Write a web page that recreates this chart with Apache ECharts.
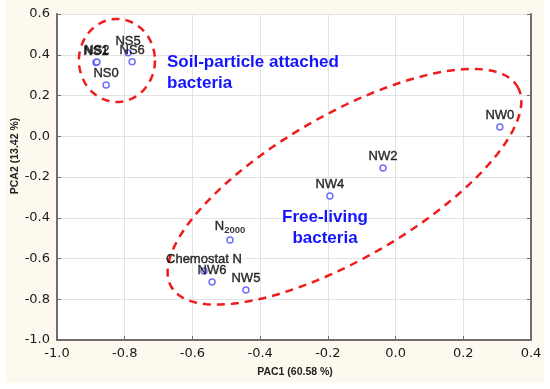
<!DOCTYPE html>
<html>
<head>
<meta charset="utf-8">
<script src="https://cdn.jsdelivr.net/npm/echarts@6/dist/echarts.min.js"></script>
<style>
html,body{margin:0;padding:0;background:#fff;}
#wrap{position:relative;width:550px;height:389px;background:#fff;}
#bg{position:absolute;left:5px;top:0;width:539px;height:383px;background:#fdf9ee;}
#chart{position:absolute;left:0;top:0;width:550px;height:389px;}
</style>
</head>
<body>
<div id="wrap"><div id="bg"></div><div id="chart"></div></div>
<script>
// Data
var sampleNames = ['NS1','NS2','NS5','NS6','NS0','NW0','NW2','NW4','N2000','Chemostat N','NW6','NW5'];
var pc1Values  = [-0.885,-0.882,-0.790,-0.778,-0.855,0.308,-0.037,-0.194,-0.489,-0.566,-0.542,-0.442];
var pc2Values  = [0.362,0.365,0.410,0.366,0.252,0.045,-0.156,-0.293,-0.509,-0.661,-0.715,-0.755];
var xTickRange = [-1.0, 0.4, 0.2];
var yTickRange = [-1.0, 0.6, 0.2];
var xAxisTitle = 'PAC1 (60.58 %)';
var yAxisTitle = 'PCA2 (13.42 %)';
var groupLabels = ['Soil-particle attached\nbacteria', 'Free-living\nbacteria'];

var chart = echarts.init(document.getElementById('chart'), null, {renderer:'canvas'});

function fmt(v){ if (Math.abs(v) < 1e-9) return '0.0'; return v.toFixed(1); }

var seriesData = sampleNames.map(function(n,i){ return {name:n, value:[pc1Values[i], pc2Values[i]]}; });

var tickFont = {fontFamily:'DejaVu Sans', fontSize:13, color:'#1a1a1a'};

chart.setOption({
  backgroundColor:'transparent',
  animation:false,
  grid:{left:57, right:19, top:14, bottom:49, show:true, backgroundColor:'#ffffff', borderWidth:0},
  xAxis:{
    type:'value', min:xTickRange[0], max:xTickRange[1], interval:xTickRange[2],
    axisLine:{show:true, onZero:false, lineStyle:{color:'#6e6e6e', width:2}},
    axisTick:{show:true, inside:true, length:4, lineStyle:{color:'#6e6e6e'}},
    axisLabel:Object.assign({margin:7, formatter:fmt}, tickFont),
    splitLine:{show:true, lineStyle:{color:'#e2e2e2', width:1}}
  },
  yAxis:[{
    type:'value', min:yTickRange[0], max:yTickRange[1], interval:yTickRange[2],
    axisLine:{show:true, onZero:false, lineStyle:{color:'#6e6e6e', width:2}},
    axisTick:{show:true, inside:true, length:4, lineStyle:{color:'#6e6e6e'}},
    axisLabel:Object.assign({margin:7, formatter:fmt}, tickFont),
    splitLine:{show:true, lineStyle:{color:'#e2e2e2', width:1}}
  },{
    type:'value', position:'right', min:yTickRange[0], max:yTickRange[1], interval:yTickRange[2],
    axisLine:{show:true, onZero:false, lineStyle:{color:'#6e6e6e', width:2}},
    axisTick:{show:true, inside:true, length:4, lineStyle:{color:'#6e6e6e'}},
    axisLabel:{show:false}, splitLine:{show:false}
  }],
  series:[{
    type:'scatter', symbol:'circle', symbolSize:6,
    itemStyle:{color:'#ffffff', borderColor:'#4d4dff', borderWidth:1.5},
    data:seriesData,
    z:5,
    label:{
      show:true, position:'top', distance:1,
      fontFamily:'Liberation Sans', fontSize:13, color:'#000',
      textBorderColor:'#000', textBorderWidth:0.4,
      formatter:function(p){ return p.name === 'N2000' ? 'N{s|2000}' : p.name; },
      rich:{ s:{fontFamily:'Liberation Sans', fontSize:9.5, fontWeight:'bold', color:'#000', textBorderWidth:0, verticalAlign:'bottom', padding:[7,0,0,0]} }
    }
  }]
});

function ellipsePoints(cx, cy, rx, ry, rotDeg){
  var pts = [], r = rotDeg*Math.PI/180;
  for (var k=0;k<120;k++){
    var t = k/120*2*Math.PI;
    var ex = rx*Math.cos(t), ey = ry*Math.sin(t);
    pts.push([cx + ex*Math.cos(r) + ey*Math.sin(r), cy - ex*Math.sin(r) + ey*Math.cos(r)]);
  }
  return pts;
}

var c1 = chart.convertToPixel({gridIndex:0}, [-0.823, 0.372]);
var c2 = chart.convertToPixel({gridIndex:0}, [-0.151, -0.248]);
var dashStyle = {fill:null, stroke:'#ee1c1c', lineWidth:2.5, lineDash:[8,6]};
var blueText = {fontFamily:'Liberation Sans', fontSize:17, fontWeight:'bold', fill:'#1414ff', lineHeight:21};

chart.setOption({
  graphic:[
    {type:'polygon', shape:{points:ellipsePoints(c1[0], c1[1], 38, 41.5, 0)}, style:dashStyle, z:3, silent:true},
    {type:'polygon', shape:{points:ellipsePoints(c2[0], c2[1], 200, 72, 30)}, style:dashStyle, z:3, silent:true},
    {type:'text', x:167, y:52, style:Object.assign({text:groupLabels[0]}, blueText), z:4},
    {type:'text', x:325, y:207, style:Object.assign({text:groupLabels[1], align:'center'}, blueText), z:4},
    {type:'text', x:295, y:372, style:{text:xAxisTitle, fontFamily:'Liberation Sans', fontSize:10.5, fontWeight:'bold', fill:'#222', align:'center', verticalAlign:'middle'}},
    {type:'text', x:15, y:156, rotation:Math.PI/2, style:{text:yAxisTitle, fontFamily:'Liberation Sans', fontSize:10.5, fontWeight:'bold', fill:'#222', align:'center', verticalAlign:'middle'}}
  ]
});
</script>
</body>
</html>
